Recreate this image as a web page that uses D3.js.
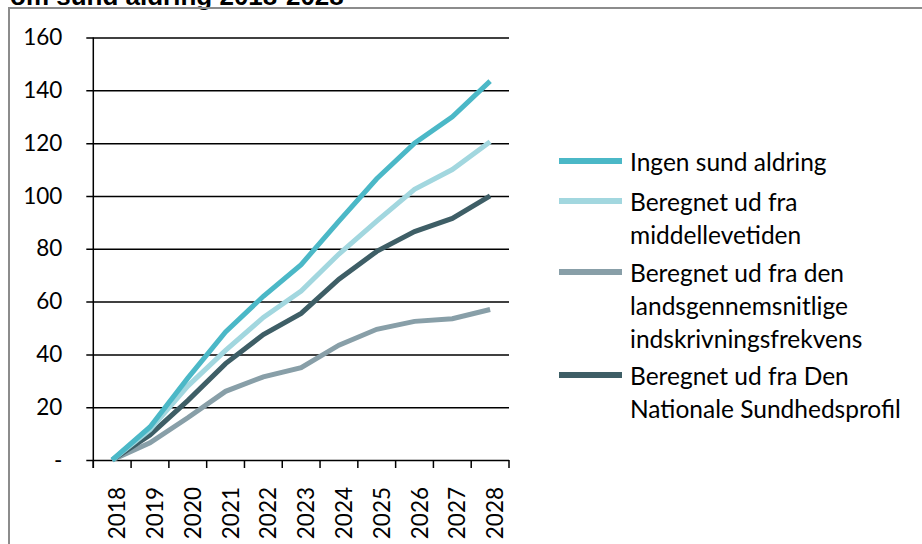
<!DOCTYPE html>
<html>
<head>
<meta charset="utf-8">
<script src="https://cdn.jsdelivr.net/npm/d3@7"></script>
<style>
  body { margin: 0; background: #fff; }
  svg text { font-family: Lato, "Open Sans", sans-serif; fill: #000; }
</style>
</head>
<body>
<div id="chart"></div>
<script>
/* Line chart: sund aldring scenarier 2018-2028 */

const years = ["2018", "2019", "2020", "2021", "2022", "2023", "2024", "2025", "2026", "2027", "2028"];

const ingenSund = [0, 12.5, 31, 48.5, 62, 74, 90.5, 106.5, 120, 130, 143.5];
const middellevetid = [0, 11.5, 28, 41.5, 54, 64, 78, 90.5, 102.5, 110, 120.5];
const indskrivning = [0, 6.5, 16, 26, 31.5, 35, 43.5, 49.5, 52.5, 53.5, 57];
const sundhedsprofil = [0, 9.5, 22.5, 36.5, 47.5, 55.5, 68.5, 79, 86.5, 91.5, 100];

const yTicks = [0, 20, 40, 60, 80, 100, 120, 140, 160];

const seriesNames = [
    ["Ingen sund aldring"],
    ["Beregnet ud fra", "middellevetiden"],
    ["Beregnet ud fra den", "landsgennemsnitlige", "indskrivningsfrekvens"],
    ["Beregnet ud fra Den", "Nationale Sundhedsprofil"]
];
const colors = ["#4bb8c7", "#a2d7df", "#889fa8", "#3e5e66"];

const series = [ingenSund, middellevetid, indskrivning, sundhedsprofil];

const width = 922,
      height = 544,
      margin = ({ top: 37.5, right: 413, bottom: 84, left: 93.3 });

let svg = d3.select("#chart")
    .append("svg")
    .attr("width", width)
    .attr("height", height);

// title, cut off at the top like in the source
svg.append("text")
    .attr("x", 10)
    .attr("y", 5)
    .style("font-family", "'Liberation Sans', Arial, sans-serif")
    .style("font-weight", "bold")
    .style("font-size", "26px")
    .text("om sund aldring 2018-2028");

// frame (only top and left visible)
svg.append("path")
    .attr("d", `M9,${height} V8 H${width}`)
    .attr("fill", "none")
    .attr("stroke", "#8c8c8c")
    .attr("stroke-width", 2);

let x = d3.scaleBand()
    .domain(years)
    .range([margin.left, width - margin.right]);

let y = d3.scaleLinear()
    .domain([0, 160])
    .range([height - margin.bottom, margin.top]);

// gridlines + y axis
let yAxis = svg.append("g")
    .attr("transform", `translate(${margin.left},0)`)
    .call(d3.axisLeft(y)
        .tickValues(yTicks)
        .tickSize(-(width - margin.right - margin.left))
        .tickFormat(d => d === 0 ? "-" : d));

yAxis.select(".domain").remove();
yAxis.selectAll(".tick line")
    .attr("x1", -7)
    .attr("stroke", "#000")
    .attr("stroke-width", 1.5);
yAxis.selectAll(".tick text")
    .attr("x", -31)
    .style("font-size", "22.5px");

svg.append("line")
    .attr("x1", margin.left).attr("x2", margin.left)
    .attr("y1", y(160)).attr("y2", y(0) + 8)
    .attr("stroke", "#000")
    .attr("stroke-width", 1.5);

// x axis with ticks on band edges
let xAxis = svg.append("g")
    .attr("transform", `translate(0,${y(0)})`);

xAxis.selectAll(".edge")
    .data(d3.range(years.length + 1))
    .join("line")
    .attr("class", "edge")
    .attr("x1", i => margin.left + i * x.bandwidth())
    .attr("x2", i => margin.left + i * x.bandwidth())
    .attr("y1", 0)
    .attr("y2", 8)
    .attr("stroke", "#000")
    .attr("stroke-width", 1.5);

xAxis.selectAll(".lbl")
    .data(years)
    .join("text")
    .attr("class", "lbl")
    .attr("transform", d => `translate(${x(d) + x.bandwidth() / 2 + 4.5},27) rotate(-90)`)
    .attr("text-anchor", "end")
    .attr("dominant-baseline", "central")
    .style("font-size", "22.5px")
    .text(d => d);

// lines
let line = d3.line()
    .x((d, i) => x(years[i]) + x.bandwidth() / 2)
    .y(d => y(d));

let drawOrder = [2, 3, 1, 0];
svg.selectAll(".series")
    .data(drawOrder)
    .join("path")
    .attr("class", "series")
    .attr("d", k => line(series[k]))
    .attr("fill", "none")
    .attr("stroke", k => colors[k])
    .attr("stroke-width", 5);

// legend
const legendY = [161, 201, 272, 375];
const lineGap = 33;

let legend = svg.selectAll(".legend")
    .data(seriesNames)
    .join("g")
    .attr("class", "legend")
    .attr("transform", (d, i) => `translate(559,${legendY[i]})`);

legend.append("line")
    .attr("x1", 0).attr("x2", 63)
    .attr("stroke", (d, i) => colors[i])
    .attr("stroke-width", 6);

legend.selectAll("text")
    .data(d => d)
    .join("text")
    .attr("x", 71)
    .attr("y", (d, j) => j * lineGap)
    .attr("dominant-baseline", "central")
    .style("font-size", "24.5px")
    .text(d => d);
</script>
</body>
</html>
